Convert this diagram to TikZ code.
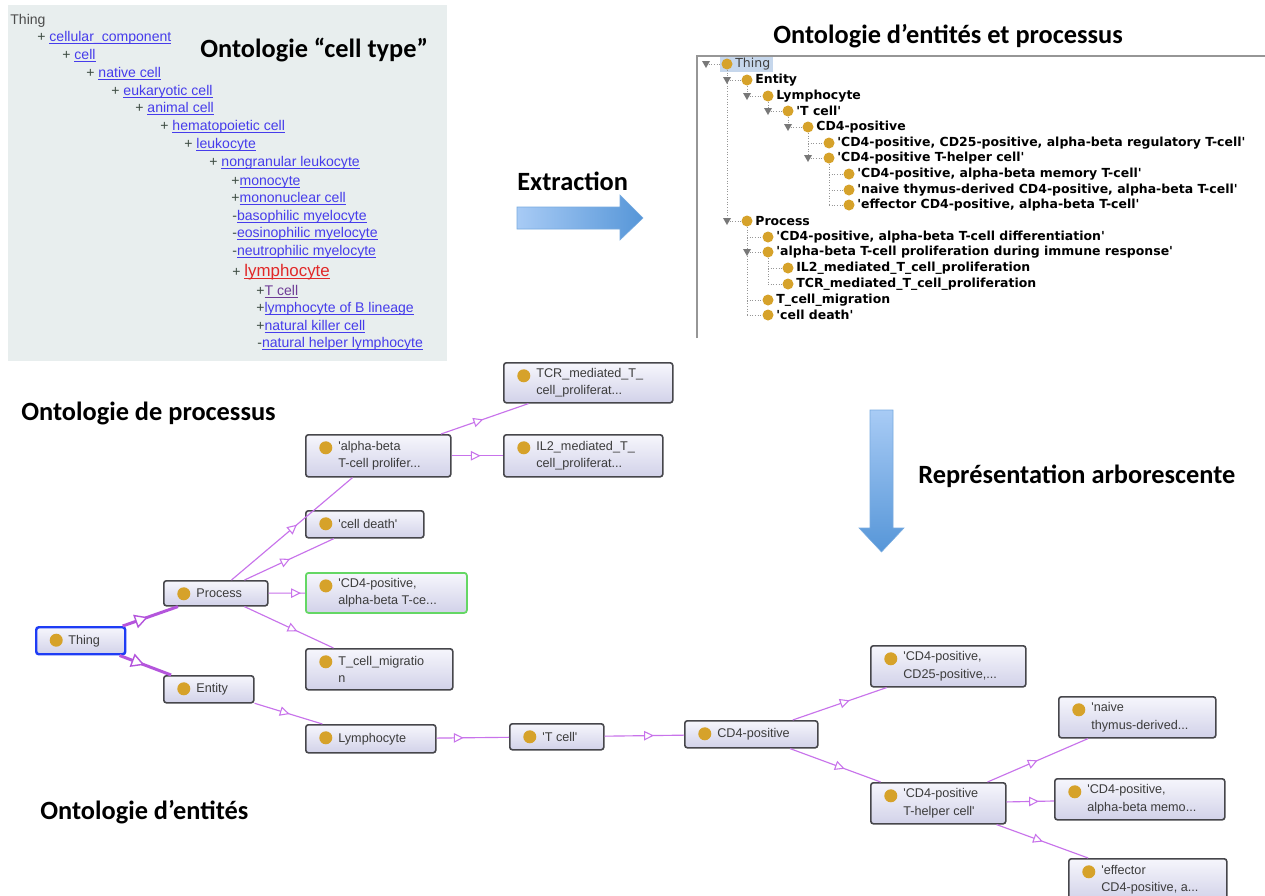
\documentclass[tikz,border=0pt]{standalone}
\usepackage{fontspec}
\setmainfont{Liberation Sans}
\newfontfamily\titlefont{Carlito}
\newfontfamily\treefont{DejaVu Sans}
\usetikzlibrary{shapes.geometric,calc}

\definecolor{panelbg}{RGB}{232,238,238}
\definecolor{linkblue}{RGB}{70,60,235}
\definecolor{visited}{RGB}{110,60,150}
\definecolor{linkred}{RGB}{225,40,40}
\definecolor{plusgray}{RGB}{60,75,65}
\definecolor{gold}{RGB}{214,162,42}
\definecolor{treegray}{RGB}{150,150,150}
\definecolor{trigray}{RGB}{120,120,120}
\definecolor{selblue}{RGB}{198,215,236}
\definecolor{arrowlight}{RGB}{168,203,245}
\definecolor{arrowdark}{RGB}{86,150,216}
\definecolor{boxline}{RGB}{70,70,75}
\definecolor{boxtop}{RGB}{246,246,252}
\definecolor{boxbot}{RGB}{210,210,233}
\definecolor{graphtext}{RGB}{60,60,60}
\definecolor{edgeviolet}{RGB}{200,115,235}
\definecolor{thickviolet}{RGB}{180,85,220}
\definecolor{thingblue}{RGB}{30,60,245}
\definecolor{diffgreen}{RGB}{100,215,100}

\newsavebox\ctbox
\newcommand{\ctul}[1]{\sbox\ctbox{#1}\rlap{\rule[-1.3pt]{\wd\ctbox}{0.45pt}}\usebox\ctbox}
\newcommand{\ctlink}[1]{\textcolor{linkblue}{\ctul{#1}}}
\newcommand{\ctplus}{\textcolor{plusgray}{+}}
\newcommand{\ctminus}{\textcolor{plusgray}{-}}
\newcommand{\sq}{\textquotesingle}

\tikzset{x=0.02cm,y=-0.02cm,
  title/.style={anchor=west,inner sep=0,font=\titlefont\bfseries\fontsize{15}{18}\selectfont},
  ctrow/.style={anchor=west,inner sep=0,font=\fontsize{8}{10}\selectfont},
  treerow/.style={anchor=west,inner sep=0,font=\treefont\bfseries\fontsize{7.1}{9}\selectfont},
  treeline/.style={draw=treegray,densely dotted,line width=0.5pt},
  ograph/.style 2 args={draw=boxline,line width=0.9pt,rounded corners=1.5pt,
    top color=boxtop,bottom color=boxbot,anchor=north west,inner sep=0,
    minimum width=#1*0.02cm,minimum height=#2*0.02cm,
    path picture={\fill[gold] ([shift={(20,13)}]path picture bounding box.north west) circle (6.5);}},
  glabel/.style={anchor=west,xshift=33*0.02cm,inner sep=0,align=left,text=graphtext,
    font=\fontsize{7.2}{9.9}\selectfont},
  midtip/.style={isosceles triangle,isosceles triangle stretches,draw=edgeviolet,fill=white,
    inner sep=0,minimum width=8*0.02cm,minimum height=8*0.02cm,anchor=apex,line width=0.6pt},
  onto/.style={draw=edgeviolet,line width=0.65pt,
    to path={-- node[pos=1,sloped,midtip] {} ($(\tikztostart)!.5!(\tikztotarget)$) -- (\tikztotarget) \tikztonodes}},
  thick onto/.style={onto,draw=thickviolet,line width=1.7pt,
    midtip/.append style={draw=thickviolet,line width=0.8pt,minimum width=12*0.02cm,minimum height=11*0.02cm}}
}

\begin{document}
\begin{tikzpicture}
    \useasboundingbox[fill=white] (0,0) rectangle (1265,896);

    % cell type ontology
    \fill[panelbg] (8,5) rectangle (447,361);
    \node[ctrow,text=black!70] (ct0) at (10,21) {Thing};
    \node[ctrow] (ct1) at (37,38) {\ctplus{} \ctlink{cellular\_component}};
    \node[ctrow] (ct2) at (62,56) {\ctplus{} \ctlink{cell}};
    \node[ctrow] (ct3) at (86,74) {\ctplus{} \ctlink{native cell}};
    \node[ctrow] (ct4) at (111,92) {\ctplus{} \ctlink{eukaryotic cell}};
    \node[ctrow] (ct5) at (135,109) {\ctplus{} \ctlink{animal cell}};
    \node[ctrow] (ct6) at (160,127) {\ctplus{} \ctlink{hematopoietic cell}};
    \node[ctrow] (ct7) at (184,145) {\ctplus{} \ctlink{leukocyte}};
    \node[ctrow] (ct8) at (209,163) {\ctplus{} \ctlink{nongranular leukocyte}};
    \node[ctrow] (ct9) at (231,182) {\ctplus\ctlink{monocyte}};
    \node[ctrow] (ct10) at (231,199) {\ctplus\ctlink{mononuclear cell}};
    \node[ctrow] (ct11) at (232,217) {\ctminus\ctlink{basophilic myelocyte}};
    \node[ctrow] (ct12) at (232,234) {\ctminus\ctlink{eosinophilic myelocyte}};
    \node[ctrow] (ct13) at (232,252) {\ctminus\ctlink{neutrophilic myelocyte}};
    \node[ctrow] (ct14) at (232,272) {\ctplus{} {\fontsize{9.6}{11}\selectfont\textcolor{linkred}{\ctul{lymphocyte}}}};
    \node[ctrow] (ct15) at (256,292) {\ctplus\textcolor{visited}{\ctul{T cell}}};
    \node[ctrow] (ct16) at (256,309) {\ctplus\ctlink{lymphocyte of B lineage}};
    \node[ctrow] (ct17) at (256,327) {\ctplus\ctlink{natural killer cell}};
    \node[ctrow] (ct18) at (257,344) {\ctminus\ctlink{natural helper lymphocyte}};
    \node[title] (celltype) at (200,50) {Ontologie “cell type”};

    % titles and arrows
    \node[title] (ep) at (773,36) {Ontologie d’entités et processus};
    \node[title] (extract) at (517,181) {Extraction};
    \node[title] (repr) at (918,476) {Représentation arborescente};
    \node[title] (proc) at (21,413) {Ontologie de processus};
    \node[title] (ent) at (40,812) {Ontologie d’entités};
    \shade[left color=arrowlight,right color=arrowdark,draw=arrowdark!80,line width=0.3pt]
      (517,207) -- (620,207) -- (620,195) -- (643,218) -- (620,240) -- (620,229) -- (517,229) -- cycle;
    \shade[top color=arrowlight,bottom color=arrowdark,draw=arrowdark!80,line width=0.3pt]
      (870,410) -- (893,410) -- (893,528) -- (904,528) -- (881.5,552) -- (859,528) -- (870,528) -- cycle;

    % entity and process tree
    \draw[treegray,line width=0.8pt] (697,338) -- (697,56) -- (1265,56);
    \fill[selblue] (720,57) rectangle (773,72);
    \draw[treeline] (706,64) -- (721,64) (727,80) -- (741,80) (747,96) -- (762,96)
      (768,111) -- (782,111) (788,127) -- (802,127) (808,143) -- (823,143) (808,158) -- (823,158)
      (829,174) -- (843,174) (829,190) -- (843,190) (829,205) -- (843,205)
      (727,221) -- (741,221) (747,237) -- (762,237) (747,252) -- (762,252)
      (768,268) -- (782,268) (768,284) -- (782,284) (747,300) -- (762,300) (747,315) -- (762,315);
    \draw[treeline] (727,70) -- (727,221) (747,86) -- (747,96) (768,102) -- (768,111)
      (788,117) -- (788,127) (808,133) -- (808,158) (829,164) -- (829,205)
      (747,227) -- (747,315) (768,258) -- (768,284);
    \fill[trigray] (706,64) +(-4,-3) -- +(4,-3) -- +(0,4) -- cycle
      (727,80) +(-4,-3) -- +(4,-3) -- +(0,4) -- cycle
      (747,96) +(-4,-3) -- +(4,-3) -- +(0,4) -- cycle
      (768,111) +(-4,-3) -- +(4,-3) -- +(0,4) -- cycle
      (788,127) +(-4,-3) -- +(4,-3) -- +(0,4) -- cycle
      (808,158) +(-4,-3) -- +(4,-3) -- +(0,4) -- cycle
      (727,221) +(-4,-3) -- +(4,-3) -- +(0,4) -- cycle
      (747,252) +(-4,-3) -- +(4,-3) -- +(0,4) -- cycle;
    \fill[gold] (727,64) circle (5.5) (747,80) circle (5.5) (768,96) circle (5.5)
      (788,111) circle (5.5) (808,127) circle (5.5) (829,143) circle (5.5) (829,158) circle (5.5)
      (849,174) circle (5.5) (849,190) circle (5.5) (849,205) circle (5.5)
      (747,221) circle (5.5) (768,237) circle (5.5) (768,252) circle (5.5)
      (788,268) circle (5.5) (788,284) circle (5.5) (768,300) circle (5.5) (768,315) circle (5.5);
    \node[treerow,font=\treefont\fontsize{7.1}{9}\selectfont,text=black!75] (r0) at (735,64) {Thing};
    \node[treerow] (r1) at (755,80) {Entity};
    \node[treerow] (r2) at (776,96) {Lymphocyte};
    \node[treerow] (r3) at (796,111) {\sq T cell\sq};
    \node[treerow] (r4) at (816,127) {CD4-positive};
    \node[treerow] (r5) at (837,143) {\sq CD4-positive, CD25-positive, alpha-beta regulatory T-cell\sq};
    \node[treerow] (r6) at (837,158) {\sq CD4-positive T-helper cell\sq};
    \node[treerow] (r7) at (857,174) {\sq CD4-positive, alpha-beta memory T-cell\sq};
    \node[treerow] (r8) at (857,190) {\sq naive thymus-derived CD4-positive, alpha-beta T-cell\sq};
    \node[treerow] (r9) at (857,205) {\sq effector CD4-positive, alpha-beta T-cell\sq};
    \node[treerow] (r10) at (755,221) {Process};
    \node[treerow] (r11) at (776,237) {\sq CD4-positive, alpha-beta T-cell differentiation\sq};
    \node[treerow] (r12) at (776,252) {\sq alpha-beta T-cell proliferation during immune response\sq};
    \node[treerow] (r13) at (796,268) {IL2\_mediated\_T\_cell\_proliferation};
    \node[treerow] (r14) at (796,284) {TCR\_mediated\_T\_cell\_proliferation};
    \node[treerow] (r15) at (776,300) {T\_cell\_migration};
    \node[treerow] (r16) at (776,315) {\sq cell death\sq};

    % graph view
    \node[ograph={89}{27},draw=thingblue,line width=1.4pt,label={[glabel]west:Thing}] (thing) at (35,626) {};
    \node[ograph={104}{25},label={[glabel]west:Process}] (process) at (163,580) {};
    \node[ograph={90}{27},label={[glabel]west:Entity}] (entity) at (163,675) {};
    \node[ograph={145}{42},label={[glabel]west:{\sq alpha-beta\\T-cell prolifer...}}] (abprolif) at (305,434) {};
    \node[ograph={118}{27},label={[glabel]west:{\sq cell death\sq}}] (celldeath) at (305,510) {};
    \node[ograph={161}{40},draw=diffgreen,line width=1pt,label={[glabel]west:{\sq CD4-positive,\\alpha-beta T-ce...}}] (cd4diff) at (305,572) {};
    \node[ograph={147}{41},label={[glabel]west:{T\_cell\_migratio\\n}}] (migration) at (305,648) {};
    \node[ograph={130}{28},label={[glabel]west:Lymphocyte}] (lympho) at (305,724) {};
    \node[ograph={169}{40},label={[glabel]west:{TCR\_mediated\_T\_\\cell\_proliferat...}}] (tcr) at (503,362) {};
    \node[ograph={159}{42},label={[glabel]west:{IL2\_mediated\_T\_\\cell\_proliferat...}}] (il2) at (503,434) {};
    \node[ograph={94}{26},label={[glabel]west:{\sq T cell\sq}}] (tcell) at (509,723) {};
    \node[ograph={133}{27},label={[glabel]west:CD4-positive}] (cd4pos) at (684,720) {};
    \node[ograph={155}{41},label={[glabel]west:{\sq CD4-positive,\\CD25-positive,...}}] (cd25) at (870,645) {};
    \node[ograph={135}{41},label={[glabel]west:{\sq CD4-positive\\T-helper cell\sq}}] (thelper) at (870,782) {};
    \node[ograph={157}{41},label={[glabel]west:{\sq naive\\thymus-derived...}}] (naive) at (1058,696) {};
    \node[ograph={170}{41},label={[glabel]west:{\sq CD4-positive,\\alpha-beta memo...}}] (memory) at (1054,778) {};
    \node[ograph={158}{42},label={[glabel]west:{\sq effector\\CD4-positive, a...}}] (effector) at (1068,858) {};
    \path
    (thing) edge[thick onto] (process)
    (thing) edge[thick onto] (entity)
    (process) edge[onto] (abprolif)
    (process) edge[onto] (celldeath)
    (process) edge[onto] (cd4diff)
    (process) edge[onto] (migration)
    (abprolif) edge[onto] (tcr)
    (abprolif) edge[onto] (il2)
    (entity) edge[onto] (lympho)
    (lympho) edge[onto] (tcell)
    (tcell) edge[onto] (cd4pos)
    (cd4pos) edge[onto] (cd25)
    (cd4pos) edge[onto] (thelper)
    (thelper) edge[onto] (naive)
    (thelper) edge[onto] (memory)
    (thelper) edge[onto] (effector)
    ;
\end{tikzpicture}
\end{document}
